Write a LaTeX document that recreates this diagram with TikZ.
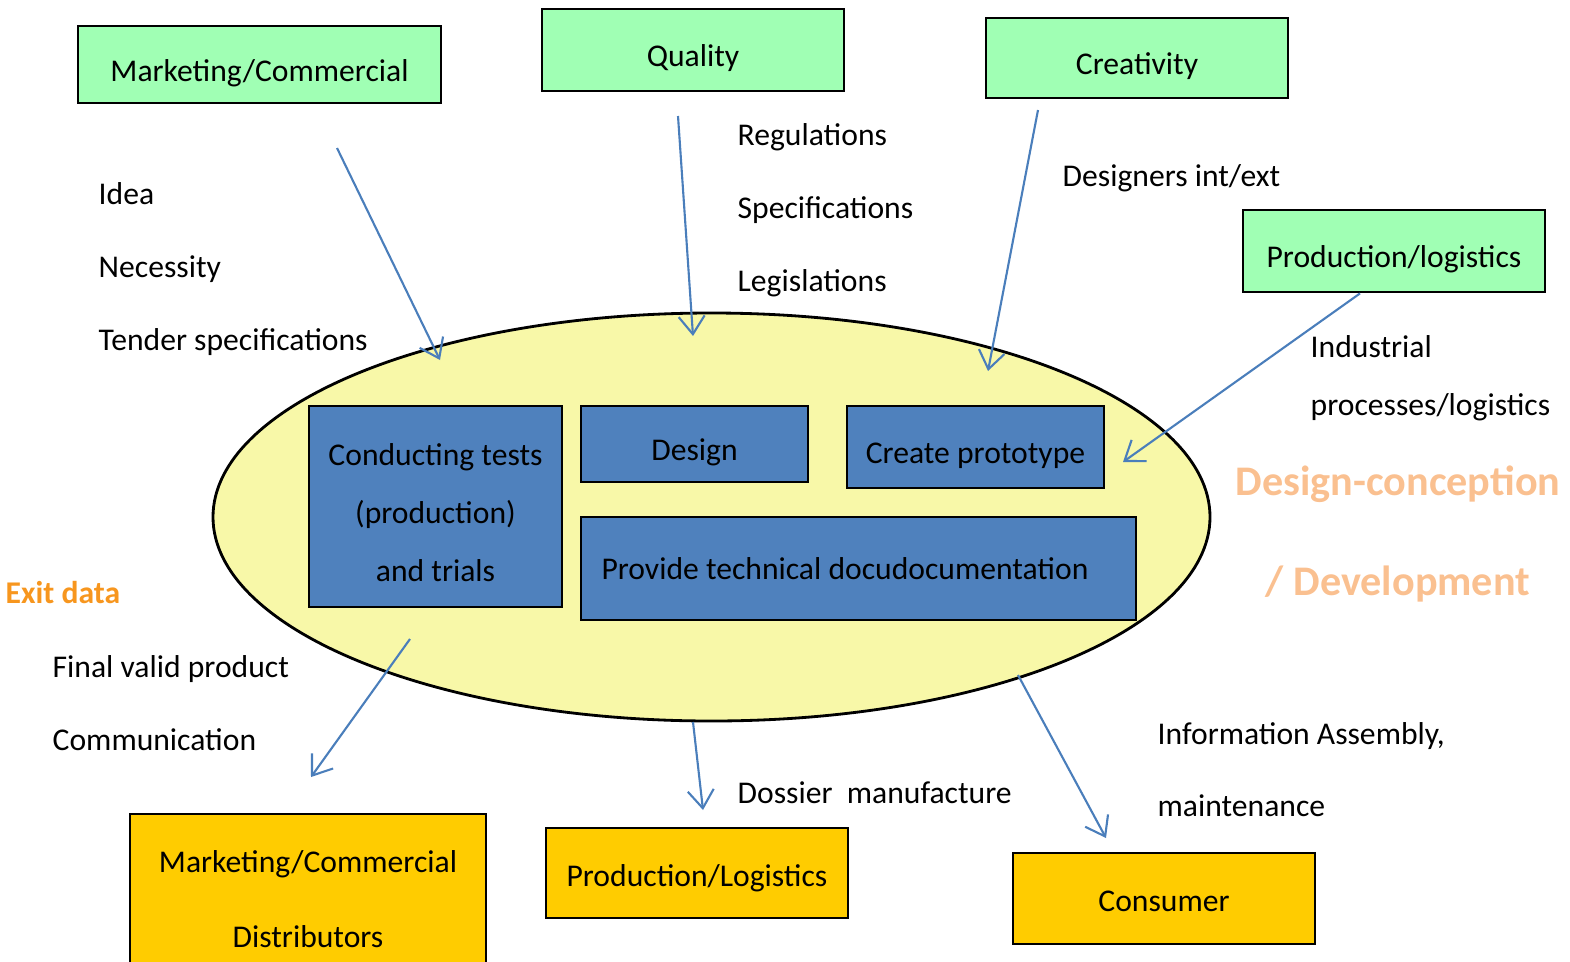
\documentclass[tikz,border=0pt]{standalone}
\usepackage{fontspec}
\setmainfont{Carlito}
\usepackage{xcolor}
\usepackage{tikz}
\usetikzlibrary{positioning,arrows.meta,shapes.geometric}
\definecolor{boxgreen}{RGB}{160,255,180}
\definecolor{ovalyellow}{RGB}{248,248,168}
\definecolor{taskblue}{RGB}{79,129,189}
\definecolor{outorange}{RGB}{255,204,0}
\definecolor{arrowblue}{RGB}{74,126,187}
\definecolor{exitorange}{RGB}{247,150,30}
\definecolor{titlepeach}{RGB}{250,192,144}

\begin{document}
\begin{tikzpicture}[
					% Inputs (green boxes on top)
					inbox/.style={
						rectangle, draw=black, line width=0.8pt, fill=boxgreen,
						minimum width=3.02cm, minimum height=0.8cm, inner sep=0pt,
						text height=11pt, text depth=1.6pt,
						font=\fontsize{9}{11}\selectfont
					},
					% Tasks inside the oval (blue)
					task/.style={
						rectangle, draw=black, line width=0.8pt, fill=taskblue,
						inner sep=0pt, align=center,
						font=\fontsize{9}{16.5}\selectfont
					},
					oneline/.style={text height=11pt, text depth=1.6pt},
					% Outputs (orange boxes below)
					outbox/.style={
						rectangle, draw=black, line width=0.8pt, fill=outorange,
						minimum width=3.02cm, minimum height=0.9cm, inner sep=0pt, align=center,
						font=\fontsize{9}{21.3}\selectfont
					},
					% Free text beside the arrows
					note/.style={
						anchor=west, inner sep=0pt, align=left,
						font=\fontsize{9}{20.7}\selectfont
					},
					flow/.style={
						draw=arrowblue, line width=0.6pt,
						-{Straight Barb[length=1.8mm,width=2.6mm]}
					}
					]
					\useasboundingbox (0,0) rectangle (15.70,-9.61);
					
					% --- 1. OVAL ---
					\node[ellipse, draw=black, line width=0.8pt, fill=ovalyellow,
					minimum width=9.97cm, minimum height=4.08cm] (oval) at (7.115,-5.17) {};
					
					% --- 2. TASKS ---
					\node[task, minimum width=2.53cm, minimum height=2.01cm] (tests) at (4.355,-5.065)
					{\rule{0pt}{9.5pt}Conducting tests\\(production)\\and trials};
					\node[task, oneline, minimum width=2.27cm, minimum height=0.76cm] (design) at (6.945,-4.44) {Design};
					\node[task, oneline, minimum width=2.57cm, minimum height=0.82cm] (proto) at (9.755,-4.47) {Create prototype};
					\node[task, minimum width=5.55cm, minimum height=1.03cm] (docu) at (8.585,-5.685)
					{Provide technical docudocumentation\hspace*{0.27cm}};
					
					% --- 3. INPUTS ---
					\node[inbox, minimum width=3.63cm, minimum height=0.77cm] (mktin) at (2.595,-0.645) {Marketing/Commercial};
					\node[inbox, minimum height=0.82cm] (quality) at (6.93,-0.50) {Quality};
					\node[inbox] (creat) at (11.37,-0.58) {Creativity};
					\node[inbox, minimum height=0.82cm] (prodlog) at (13.94,-2.51) {Production/logistics};
					
					\node[note] (need) at (0.98,-2.69) {Idea\\Necessity\\Tender specifications};
					\node[note] (rules) at (7.37,-2.10) {Regulations\\Specifications\\Legislations};
					\node[note] (designers) at (10.62,-1.78) {Designers int/ext};
					\node[note, font=\fontsize{9}{16.5}\selectfont] (indus) at (13.10,-3.78) {Industrial\\processes/logistics};
					
					% --- 4. OUTPUTS ---
					\node[outbox, minimum width=3.56cm, minimum height=1.70cm] (mktout) at (3.08,-8.99)
					{Marketing/Commercial\\Distributors};
					\node[outbox, text height=9pt, text depth=1.6pt] (prodout) at (6.97,-8.73) {Production/Logistics};
					\node[outbox, text height=9pt, text depth=1.6pt, minimum height=0.91cm] (consumer) at (11.64,-8.985) {Consumer};
					
					\node[note, font=\bfseries\fontsize{9}{11}\selectfont\color{exitorange}] (exit) at (0.05,-5.93) {Exit data};
					\node[note] (final) at (0.52,-7.03) {Final valid product\\Communication};
					\node[note] (dossier) at (7.37,-7.93) {Dossier~~manufacture};
					\node[note] (info) at (11.57,-7.695) {Information Assembly,\\maintenance};
					
					% --- 5. TITLE ---
					\node[inner sep=0pt, align=center, font=\bfseries\fontsize{12}{28.4}\selectfont\color{titlepeach}]
					(title) at (13.98,-5.34) {Design-conception\\/ Development};
					
					% --- 6. ARROWS ---
					\coordinate (a1s) at (3.37,-1.48);  \coordinate (a1e) at (4.40,-3.60);
					\coordinate (a2s) at (6.78,-1.16);  \coordinate (a2e) at (6.93,-3.36);
					\coordinate (a3s) at (10.38,-1.10); \coordinate (a3e) at (9.88,-3.71);
					\coordinate (a4e) at (11.23,-4.62);
					\coordinate (a5s) at (4.10,-6.39);  \coordinate (a5e) at (3.11,-7.77);
					\coordinate (a6s) at (6.93,-7.22);  \coordinate (a6e) at (7.03,-8.10);
					\coordinate (a7s) at (10.18,-6.75); \coordinate (a7e) at (11.06,-8.38);
					
					\draw[flow] (a1s) -- (a1e);
					\draw[flow] (a2s) -- (a2e);
					\draw[flow] (a3s) -- (a3e);
					\draw[flow] ([xshift=-0.34cm]prodlog.south) -- (a4e);
					\draw[flow] (a5s) -- (a5e);
					\draw[flow] (a6s) -- (a6e);
					\draw[flow] (a7s) -- (a7e);
				\end{tikzpicture}
\end{document}
